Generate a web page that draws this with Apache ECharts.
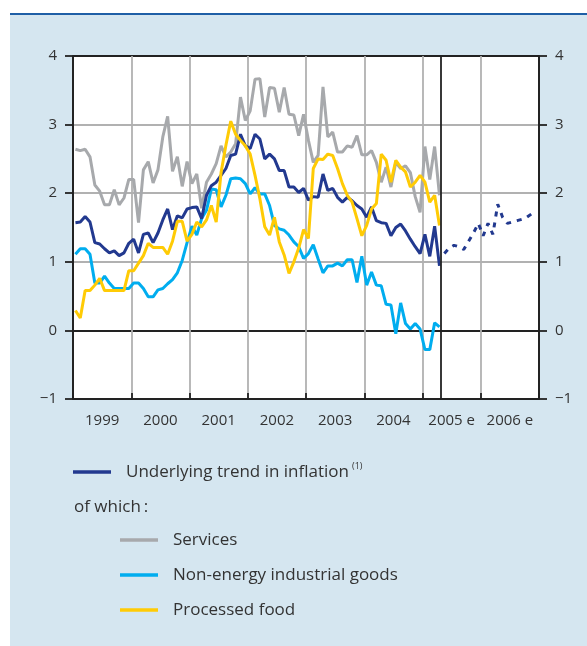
<!DOCTYPE html>
<html>
<head>
<meta charset="utf-8">
<script src="https://cdn.jsdelivr.net/npm/echarts@6/dist/echarts.min.js"></script>
<style>
html, body { margin: 0; padding: 0; background: #fff; }
#panel {
  position: absolute; left: 10px; top: 13px; width: 577px; height: 633px;
  background: #d5e6f0; border-top: 2px solid #1f5fa6; box-sizing: border-box;
}
#chart { position: absolute; left: 0; top: 0; width: 587px; height: 646px; }
</style>
</head>
<body>
<div id="panel"></div>
<div id="chart"></div>
<script>
// monthly figures, Jan 1999 onwards (y/y %)
const services = [2.64, 2.62, 2.64, 2.53, 2.12, 2.03, 1.83, 1.83, 2.05, 1.83, 1.93, 2.20,
  2.20, 1.57, 2.34, 2.46, 2.15, 2.34, 2.82, 3.12, 2.32, 2.53, 2.10, 2.46,
  2.14, 2.28, 1.78, 2.16, 2.28, 2.43, 2.69, 2.53, 2.60, 2.72, 3.40, 3.06,
  3.20, 3.66, 3.67, 3.11, 3.54, 3.53, 3.18, 3.54, 3.15, 3.14, 2.84, 3.15,
  2.77, 2.45, 2.55, 3.55, 2.82, 2.89, 2.60, 2.60, 2.69, 2.67, 2.84, 2.56,
  2.56, 2.62, 2.45, 2.16, 2.38, 2.09, 2.45, 2.36, 2.40, 2.30, 1.95, 1.72,
  2.68, 2.20, 2.68, 1.97]
const underlying = [1.57, 1.58, 1.66, 1.58, 1.28, 1.26, 1.19, 1.13, 1.16, 1.09, 1.13, 1.27,
  1.33, 1.13, 1.40, 1.42, 1.28, 1.42, 1.61, 1.77, 1.47, 1.67, 1.64, 1.77,
  1.79, 1.80, 1.63, 1.97, 2.11, 2.16, 2.26, 2.36, 2.55, 2.57, 2.86, 2.69,
  2.65, 2.86, 2.79, 2.50, 2.57, 2.50, 2.33, 2.33, 2.09, 2.09, 2.01, 2.07,
  1.90, 1.95, 1.94, 2.28, 2.04, 2.07, 1.94, 1.87, 1.94, 1.89, 1.82, 1.77,
  1.65, 1.80, 1.60, 1.57, 1.56, 1.38, 1.50, 1.55, 1.45, 1.33, 1.22, 1.12,
  1.40, 1.08, 1.52, 0.94]
const nonEnergy = [1.11, 1.19, 1.19, 1.11, 0.69, 0.69, 0.79, 0.69, 0.61, 0.61, 0.61, 0.61,
  0.69, 0.69, 0.61, 0.49, 0.49, 0.59, 0.61, 0.68, 0.74, 0.84, 1.02, 1.28,
  1.52, 1.39, 1.63, 1.75, 2.06, 2.05, 1.80, 1.97, 2.21, 2.22, 2.21, 2.14,
  1.99, 2.08, 1.99, 1.99, 1.82, 1.53, 1.48, 1.46, 1.39, 1.29, 1.22, 1.05,
  1.12, 1.25, 1.04, 0.84, 0.94, 0.94, 0.98, 0.94, 1.03, 1.03, 0.70, 1.08,
  0.66, 0.85, 0.66, 0.65, 0.38, 0.37, -0.05, 0.40, 0.10, 0.02, 0.10, 0.02,
  -0.28, -0.28, 0.11, 0.05]
const processedFood = [0.29, 0.18, 0.58, 0.58, 0.66, 0.76, 0.58, 0.58, 0.58, 0.58, 0.58, 0.87,
  0.87, 0.98, 1.09, 1.27, 1.21, 1.21, 1.21, 1.11, 1.30, 1.59, 1.59, 1.30,
  1.40, 1.58, 1.51, 1.61, 1.82, 1.58, 2.30, 2.70, 3.05, 2.86, 2.77, 2.69,
  2.57, 2.26, 1.92, 1.51, 1.39, 1.65, 1.29, 1.10, 0.83, 1.00, 1.20, 1.47,
  1.34, 2.36, 2.50, 2.49, 2.57, 2.55, 2.36, 2.14, 1.97, 1.87, 1.63, 1.38,
  1.53, 1.77, 1.85, 2.57, 2.48, 2.16, 2.48, 2.38, 2.31, 2.09, 2.16, 2.26,
  2.16, 1.87, 1.97, 1.53]
// projection of the underlying trend, starting May 2005 (month index 76)
const forecastStartIndex = 76
const forecast = [1.12, 1.20, 1.24, 1.22, 1.18, 1.30, 1.42, 1.56, 1.38, 1.56,
  1.40, 1.84, 1.65, 1.56, 1.58, 1.60, 1.62, 1.65, 1.70]

const yearLabels = ['1999', '2000', '2001', '2002', '2003', '2004', '2005 e', '2006 e']
const seriesNames = ['Underlying trend in inflation', 'Services', 'Non-energy industrial goods', 'Processed food']
const seriesColors = ['#22398f', '#a7a9ac', '#00adef', '#ffcb05']

const FONT = '"Open Sans", "Noto Sans", sans-serif'
const DARK = '#222'
const GRID = '#b1b1b1'

// month index -> position on the year axis (middle of the month)
function toPoints(values, offset) {
  return values.map((v, i) => [1999 + (i + (offset || 0) + 0.5) / 12, v])
}

function measure(text, font) {
  const ctx = document.createElement('canvas').getContext('2d')
  ctx.font = font
  return ctx.measureText(text).width
}

const myChart = echarts.init(document.getElementById('chart'))

// legend drawn by hand, the layout is indented
const legendFont = '17px ' + FONT
const legendRows = [
  { name: seriesNames[0], color: seriesColors[0], x: 73, y: 472 },
  { name: seriesNames[1], color: seriesColors[1], x: 120, y: 540 },
  { name: seriesNames[2], color: seriesColors[2], x: 120, y: 575 },
  { name: seriesNames[3], color: seriesColors[3], x: 120, y: 610 }
]
const graphics = []
legendRows.forEach((row) => {
  graphics.push({
    type: 'line',
    shape: { x1: row.x, y1: row.y, x2: row.x + 38, y2: row.y },
    style: { stroke: row.color, lineWidth: 3.5 }
  })
  graphics.push({
    type: 'text',
    x: row.x + 53,
    y: row.y,
    style: { text: row.name, font: legendFont, fill: '#333', verticalAlign: 'middle' }
  })
})
// footnote mark
graphics.push({
  type: 'text',
  x: 126 + measure(seriesNames[0], legendFont) + 3,
  y: 466,
  style: { text: '(1)', font: '9px ' + FONT, fill: '#333', verticalAlign: 'middle' }
})
graphics.push({
  type: 'text',
  x: 74,
  y: 507,
  style: { text: 'of which\u2009:', font: legendFont, fill: '#333', verticalAlign: 'middle' }
})

const lineSeries = (name, data, color) => ({
  name: name,
  type: 'line',
  data: toPoints(data),
  xAxisIndex: 0,
  showSymbol: false,
  symbol: 'none',
  lineStyle: { color: color, width: 3 },
  itemStyle: { color: color }
})

const option = {
  animation: false,
  textStyle: { fontFamily: FONT },
  grid: {
    left: 73, right: 48, top: 56, bottom: 247,
    show: true, backgroundColor: '#fff', borderWidth: 0
  },
  xAxis: [
    {
      type: 'value',
      min: 1999,
      max: 2007,
      interval: 1,
      axisLine: { show: true, onZero: false, lineStyle: { color: DARK, width: 1.8 } },
      axisTick: { show: true, inside: true, length: 6, lineStyle: { color: DARK, width: 1.8 } },
      axisLabel: { show: false },
      splitLine: {
        show: true,
        lineStyle: { color: [DARK, GRID, GRID, GRID, GRID, GRID, GRID, GRID, DARK], width: 1.8 }
      }
    },
    {
      type: 'category',
      data: yearLabels,
      position: 'bottom',
      boundaryGap: true,
      axisLine: { show: false },
      axisTick: { show: false },
      splitLine: { show: false },
      axisLabel: { interval: 0, margin: 14, fontSize: 15, color: '#333', fontFamily: FONT }
    }
  ],
  yAxis: [
    {
      type: 'value',
      position: 'left',
      min: -1,
      max: 4,
      interval: 1,
      axisLine: { show: true, onZero: false, lineStyle: { color: DARK, width: 1.8 } },
      axisTick: { show: true, length: 8, lineStyle: { color: DARK, width: 1.8 } },
      axisLabel: {
        margin: 16, fontSize: 15, color: '#333', fontFamily: FONT,
        formatter: (v) => String(v).replace('-', '\u2212')
      },
      splitLine: {
        show: true,
        lineStyle: { color: [DARK, DARK, GRID, GRID, GRID, DARK], width: 1.8 }
      }
    },
    {
      type: 'value',
      position: 'right',
      min: -1,
      max: 4,
      interval: 1,
      axisLine: { show: true, onZero: false, lineStyle: { color: DARK, width: 1.8 } },
      axisTick: { show: true, length: 8, lineStyle: { color: DARK, width: 1.8 } },
      axisLabel: {
        margin: 16, fontSize: 15, color: '#333', fontFamily: FONT,
        formatter: (v) => String(v).replace('-', '\u2212')
      },
      splitLine: { show: false }
    }
  ],
  graphic: graphics,
  series: [
    lineSeries(seriesNames[1], services, seriesColors[1]),
    lineSeries(seriesNames[2], nonEnergy, seriesColors[2]),
    Object.assign(lineSeries(seriesNames[0], underlying, seriesColors[0]), {
      markLine: {
        silent: true,
        symbol: 'none',
        label: { show: false },
        lineStyle: { color: DARK, width: 1.8, type: 'solid' },
        data: [{ xAxis: 2005.31 }]
      }
    }),
    lineSeries(seriesNames[3], processedFood, seriesColors[3]),
    {
      name: 'forecast',
      type: 'line',
      data: toPoints(forecast, forecastStartIndex),
      showSymbol: false,
      symbol: 'none',
      lineStyle: { color: seriesColors[0], width: 3, type: [5, 6] }
    }
  ]
}
myChart.setOption(option)
</script>
</body>
</html>
